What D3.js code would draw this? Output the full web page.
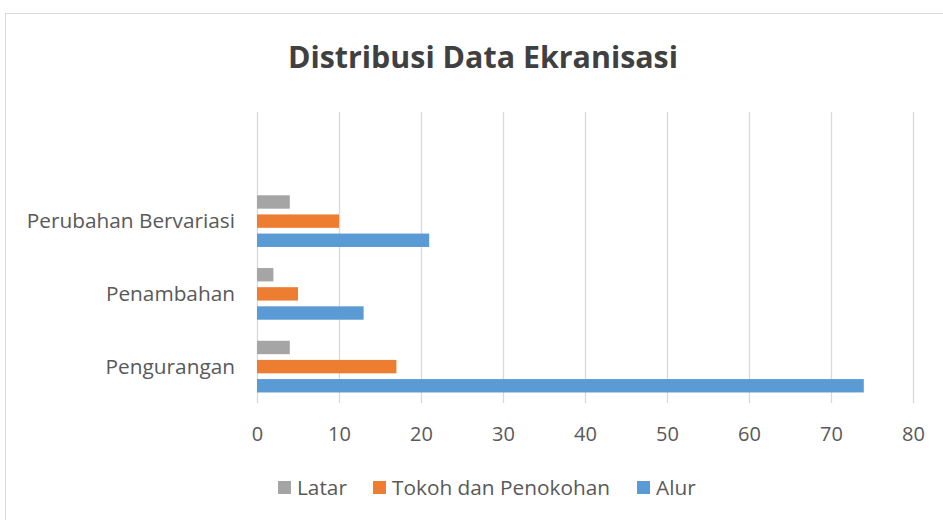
<!DOCTYPE html>
<html>
<head>
<meta charset="utf-8">
<script src="https://cdn.jsdelivr.net/npm/d3@7"></script>
<style>
  body { margin: 0; background: #fff; }
  text { font-family: "Open Sans", "Noto Sans", sans-serif; }
</style>
</head>
<body>
<div id="chart"></div>
<script>
var categories = ["Pengurangan", "Penambahan", "Perubahan Bervariasi", ""];
var seriesNames = ["Alur", "Tokoh dan Penokohan", "Latar"];
var alur = [74, 13, 21];
var tokoh = [17, 5, 10];
var latar = [4, 2, 4];
var xTicks = [0, 10, 20, 30, 40, 50, 60, 70, 80];
var legendOrder = ["Latar", "Tokoh dan Penokohan", "Alur"];

var colors = {"Alur": "#5b9bd5", "Tokoh dan Penokohan": "#ed7d31", "Latar": "#a5a5a5"};
var values = {"Alur": alur, "Tokoh dan Penokohan": tokoh, "Latar": latar};

var width = 943, height = 520;
var margin = {top: 112, right: 30, bottom: 117, left: 257};

var svg = d3.select("#chart").append("svg")
  .attr("width", width)
  .attr("height", height);

svg.append("rect")
  .attr("x", 5.5).attr("y", 13.5)
  .attr("width", width).attr("height", height)
  .attr("fill", "#fff")
  .attr("stroke", "#d9d9d9");

var x = d3.scaleLinear().domain([0, 80]).range([margin.left, 913]);
var y = d3.scaleBand().domain(categories)
  .range([height - margin.bottom, margin.top])
  .paddingInner(0).paddingOuter(0);

// grid
svg.append("g").selectAll("line")
  .data(xTicks)
  .enter().append("line")
  .attr("x1", d => x(d) + 0.5).attr("x2", d => x(d) + 0.5)
  .attr("y1", margin.top).attr("y2", height - margin.bottom)
  .attr("stroke", "#d9d9d9").attr("stroke-width", 1.3);

// tick labels
var xAxis = svg.append("g")
  .attr("transform", "translate(0," + (height - margin.bottom) + ")")
  .call(d3.axisBottom(x).tickValues(xTicks).tickSize(0).tickPadding(24));
xAxis.select(".domain").remove();
xAxis.selectAll("text")
  .attr("font-size", 20).attr("fill", "#595959")
  .style("font-family", "'Open Sans', 'Noto Sans', sans-serif");

// category labels
svg.append("g").selectAll("text")
  .data(categories.filter(c => c !== ""))
  .enter().append("text")
  .attr("x", 235)
  .attr("y", d => y(d) + y.bandwidth() / 2)
  .attr("dy", "0.35em")
  .attr("text-anchor", "end")
  .attr("font-size", 20.8)
  .attr("fill", "#595959")
  .text(d => d);

// bars
var inner = d3.scaleBand().domain(seriesNames)
  .range([0, y.bandwidth()])
  .paddingInner(0.3).paddingOuter(0.55);

seriesNames.forEach(function(s) {
  svg.append("g").selectAll("rect")
    .data(values[s])
    .enter().append("rect")
    .attr("x", x(0))
    .attr("y", (d, i) => y(categories[i]) + y.bandwidth() - inner(s) - inner.bandwidth())
    .attr("width", d => x(d) - x(0))
    .attr("height", inner.bandwidth())
    .attr("fill", colors[s]);
});

// title
svg.append("text")
  .attr("x", 483).attr("y", 68)
  .attr("text-anchor", "middle")
  .attr("font-size", 30.4)
  .attr("font-weight", "bold")
  .attr("fill", "#404040")
  .text("Distribusi Data Ekranisasi");

// legend
var legendX = [278, 373, 637];
var leg = svg.append("g").selectAll("g")
  .data(legendOrder)
  .enter().append("g")
  .attr("transform", (d, i) => "translate(" + legendX[i] + ",481)");
leg.append("rect")
  .attr("width", 13).attr("height", 13)
  .attr("fill", d => colors[d]);
leg.append("text")
  .attr("x", 19).attr("y", 6.5)
  .attr("dy", "0.35em")
  .attr("font-size", 20.8)
  .attr("fill", "#595959")
  .text(d => d);
</script>
</body>
</html>
